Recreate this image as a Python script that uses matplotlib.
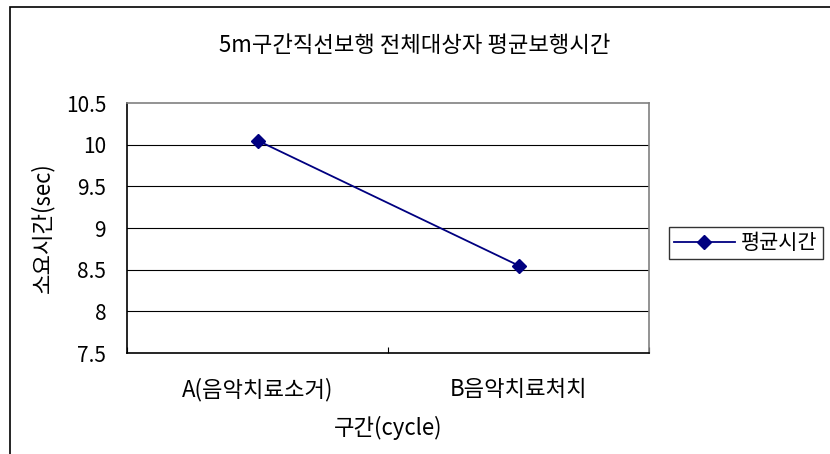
import matplotlib.pyplot as plt
from matplotlib.patches import Rectangle

plt.rcParams['font.family'] = ['Noto Sans CJK KR', 'DejaVu Sans']

# 구간별 평균 보행시간 (sec)
categories = ['A(음악치료소거)', 'B음악치료처치']
mean_time = [10.05, 8.55]
series_name = '평균시간'
y_ticks = [7.5, 8, 8.5, 9, 9.5, 10, 10.5]
y_labels = ['7.5', '8', '8.5', '9', '9.5', '10', '10.5']

fig = plt.figure(figsize=(8.3, 4.54), dpi=100)
ax = fig.add_axes([127 / 830, 1 - 353 / 454, (649 - 127) / 830, (353 - 103) / 454])

# 차트 영역 테두리 (오른쪽/아래는 잘림)
fig.patches.append(Rectangle((10 / 830, -0.5), 2, 0.5 + 1 - 7 / 454,
                             transform=fig.transFigure, fill=False,
                             edgecolor='black', linewidth=1.2))

x = [0.5, 1.5]
ax.plot(x, mean_time, color='#000080', linewidth=1.3, marker='D',
        markersize=7, markerfacecolor='#000080', markeredgecolor='#000080',
        label=series_name)

ax.set_xlim(0, 2)
ax.set_ylim(7.5, 10.5)
ax.set_yticks(y_ticks)
ax.set_yticklabels(y_labels, fontsize=15)
ax.set_xticks([0, 1, 2])
ax.set_xticklabels([])
ax.tick_params(axis='x', direction='in', length=4, width=0.8)
ax.tick_params(axis='y', length=0, pad=15)
for xi, lab in zip(x, categories):
    ax.text(xi, -0.1, lab, transform=ax.get_xaxis_transform(),
            ha='center', va='top', fontsize=16)

for yv in y_ticks[1:-1]:
    ax.axhline(yv, color='black', linewidth=0.8, zorder=0)

for side in ['left', 'bottom']:
    ax.spines[side].set_color('black')
    ax.spines[side].set_linewidth(1.2)
for side in ['top', 'right']:
    ax.spines[side].set_color('#808080')
    ax.spines[side].set_linewidth(1.2)

ax.set_ylabel('소요시간(sec)', fontsize=16, labelpad=8)
ax.set_xlabel('구간(cycle)', fontsize=16, labelpad=42)
fig.text(415 / 830, 1 - 45 / 454, '5m구간직선보행 전체대상자 평균보행시간',
         ha='center', va='center', fontsize=16)

leg = ax.legend(loc='center left', bbox_to_anchor=(669 / 830, 1 - 243 / 454),
                bbox_transform=fig.transFigure, fontsize=15, frameon=True,
                fancybox=False, edgecolor='black', borderpad=0.25,
                handlelength=2.9, handletextpad=0.3, borderaxespad=0)
leg.get_frame().set_linewidth(1)

fig.savefig('out.png', dpi=100)
